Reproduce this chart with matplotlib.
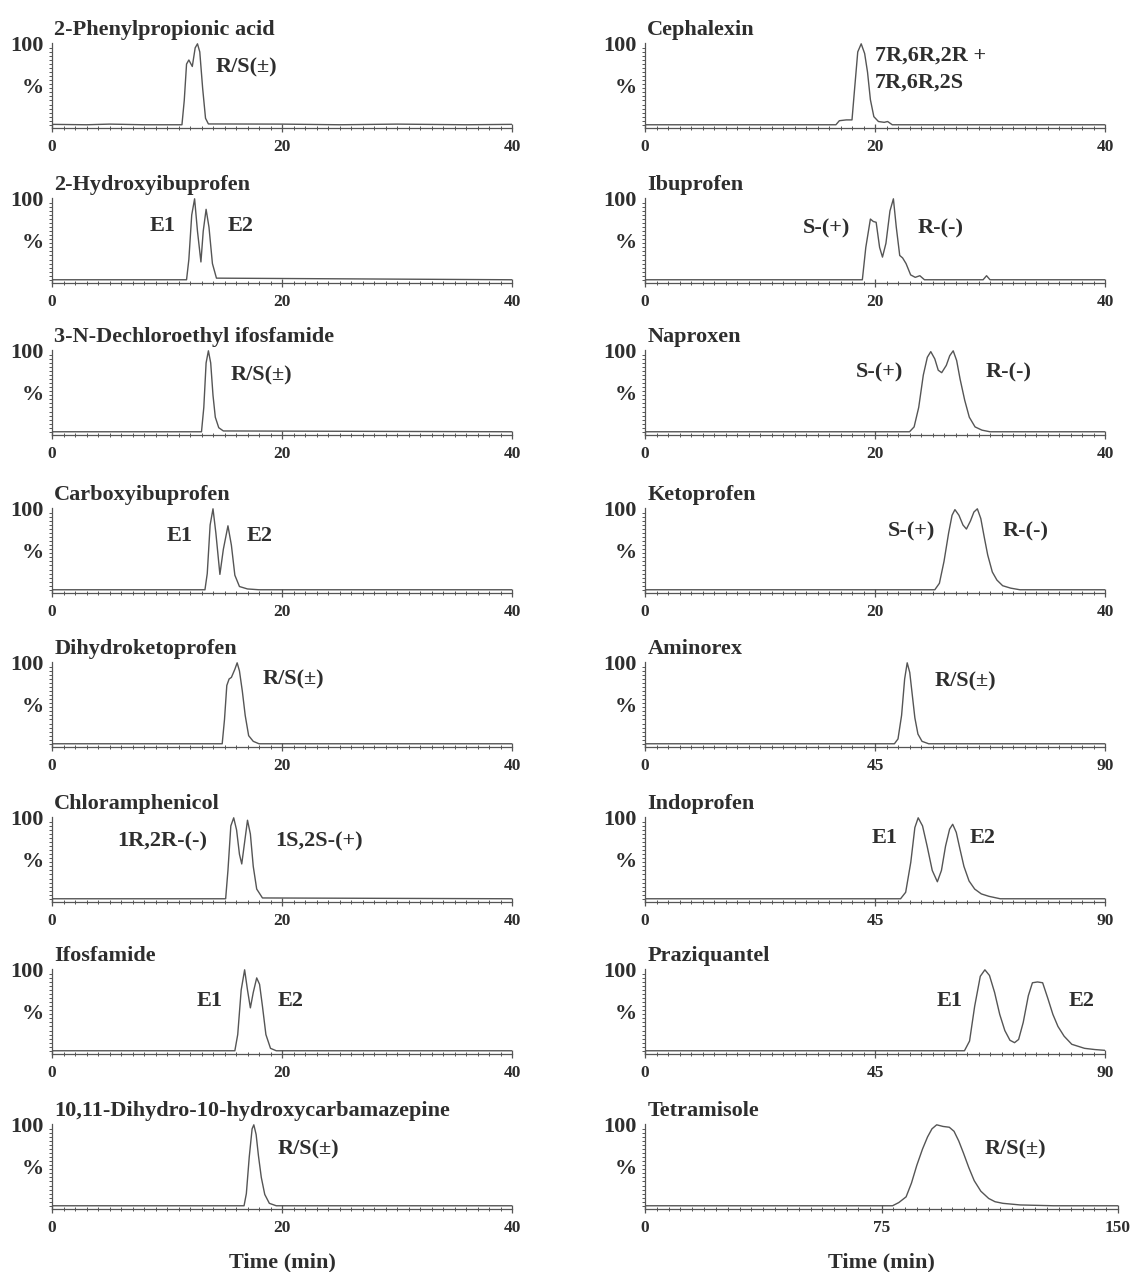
import matplotlib
matplotlib.use('Agg')
import matplotlib.pyplot as plt
from matplotlib.ticker import MultipleLocator

# === chromatogram traces: time (min), signal (%) ===

# left column
phenyl_t = [0, 3, 5, 8, 11.3, 11.5, 11.7, 11.9, 12.2, 12.45, 12.65, 12.85, 13.1, 13.35, 13.6, 20, 25, 30, 36, 40]
phenyl_y = [0.5, 0, 0.8, 0, 0, 30, 75, 80, 72, 95, 100, 90, 45, 8, 1, 0.8, 0, 0.8, 0, 0.5]
hydroxy_t = [0, 11.7, 11.9, 12.15, 12.4, 12.65, 12.95, 13.15, 13.4, 13.65, 13.95, 14.3, 40]
hydroxy_y = [0, 0, 25, 80, 100, 60, 22, 60, 87, 65, 20, 2, 0]
dechloro_t = [0, 13.0, 13.2, 13.4, 13.6, 13.8, 14.0, 14.2, 14.5, 14.9, 40]
dechloro_y = [0, 0, 30, 85, 100, 85, 45, 18, 5, 1, 0]
carboxy_t = [0, 13.3, 13.5, 13.75, 14.0, 14.25, 14.6, 14.9, 15.3, 15.6, 15.9, 16.3, 17.0, 18.0, 40]
carboxy_y = [0, 0, 20, 80, 100, 70, 19, 50, 79, 55, 18, 4, 1, 0, 0]
dihydroketo_t = [0, 14.8, 15.0, 15.2, 15.4, 15.6, 15.9, 16.1, 16.3, 16.55, 16.8, 17.1, 17.5, 18.0, 40]
dihydroketo_y = [0, 0, 30, 72, 80, 82, 92, 100, 90, 65, 35, 10, 3, 0, 0]
chloram_t = [0, 15.1, 15.3, 15.55, 15.8, 16.05, 16.3, 16.5, 16.75, 17.0, 17.25, 17.5, 17.8, 18.3, 40]
chloram_y = [0, 0, 35, 90, 100, 85, 55, 43, 70, 97, 80, 40, 12, 1, 0]
ifos_t = [0, 15.9, 16.15, 16.45, 16.75, 17.0, 17.25, 17.5, 17.8, 18.05, 18.3, 18.6, 19.0, 19.5, 40]
ifos_y = [0, 0, 20, 75, 100, 75, 53, 72, 90, 82, 55, 20, 3, 0, 0]
carbamaz_t = [0, 16.7, 16.9, 17.15, 17.4, 17.55, 17.75, 17.95, 18.2, 18.5, 18.9, 19.5, 40]
carbamaz_y = [0, 0, 15, 60, 95, 100, 88, 62, 35, 14, 3, 0, 0]

# right column
cephal_t = [0, 16.6, 16.9, 17.5, 18.0, 18.2, 18.5, 18.8, 19.1, 19.35, 19.6, 19.9, 20.3, 20.8, 21.1, 21.5, 40]
cephal_y = [0, 0, 5, 6, 6, 40, 90, 100, 88, 65, 31, 10, 4, 3, 4, 0, 0]
ibu_t = [0, 18.9, 19.2, 19.6, 19.85, 20.1, 20.4, 20.65, 20.95, 21.3, 21.6, 21.85, 22.15, 22.4, 22.7, 23.1,
         23.5, 23.9, 24.3, 29.4, 29.7, 30.0, 40]
ibu_y = [0, 0, 40, 75, 72, 71, 40, 28, 45, 85, 100, 65, 30, 27, 20, 6, 3, 5, 0, 0, 5, 0, 0]
napro_t = [0, 23.0, 23.4, 23.8, 24.2, 24.55, 24.85, 25.2, 25.5, 25.8, 26.2, 26.5, 26.8, 27.1, 27.4, 27.8,
           28.2, 28.7, 29.3, 30.0, 40]
napro_y = [0, 0, 6, 30, 70, 92, 99, 90, 76, 73, 82, 94, 100, 88, 65, 39, 18, 6, 2, 0, 0]
keto_t = [0, 25.2, 25.6, 26.0, 26.4, 26.7, 26.95, 27.3, 27.65, 27.95, 28.3, 28.6, 28.9, 29.2, 29.5, 29.8,
          30.2, 30.6, 31.1, 31.8, 32.6, 40]
keto_y = [0, 0, 8, 35, 70, 92, 99, 92, 80, 75, 85, 96, 100, 88, 65, 43, 22, 12, 5, 2, 0, 0]
amino_t = [0, 48.8, 49.5, 50.2, 50.8, 51.3, 51.8, 52.3, 52.8, 53.4, 54.2, 55.5, 90]
amino_y = [0, 0, 6, 35, 80, 100, 88, 60, 32, 12, 3, 0, 0]
indo_t = [0, 50.0, 51.0, 52.0, 52.8, 53.45, 54.3, 55.2, 56.2, 57.2, 58.0, 58.8, 59.6, 60.2, 60.9, 61.6,
          62.4, 63.4, 64.5, 65.8, 67.3, 69.5, 90]
indo_y = [0, 0, 8, 45, 88, 100, 90, 65, 35, 21, 35, 65, 86, 92, 82, 62, 40, 22, 12, 6, 3, 0, 0]
prazi_t = [0, 62.5, 63.5, 64.5, 65.6, 66.5, 67.4, 68.4, 69.4, 70.4, 71.4, 72.3, 73.1, 74.0, 75.0, 75.8,
           76.8, 77.8, 78.8, 79.8, 80.8, 82.0, 83.5, 86.0, 88.0, 90]
prazi_y = [0, 0, 12, 55, 92, 100, 93, 72, 45, 25, 13, 10, 14, 35, 68, 84, 85, 84, 65, 45, 30, 18, 8, 3, 1.5, 0.5]
tetra_t = [0, 78.5, 80.5, 82.8, 84.5, 86.2, 88.0, 89.6, 91.0, 92.5, 94.5, 96.5, 98.0, 99.5, 101.0, 102.7,
           104.4, 106.5, 109.0, 111.0, 113.5, 119.0, 129.5, 150]
tetra_y = [0, 0, 4, 11, 28, 50, 70, 85, 95, 100, 98, 97, 92, 80, 65, 47, 31, 18, 9, 5, 3, 1, 0, 0]

# compound names
left_titles = ['2-Phenylpropionic acid', '2-Hydroxyibuprofen', '3-N-Dechloroethyl ifosfamide',
               'Carboxyibuprofen', 'Dihydroketoprofen', 'Chloramphenicol', 'Ifosfamide',
               '10,11-Dihydro-10-hydroxycarbamazepine']
right_titles = ['Cephalexin', 'Ibuprofen', 'Naproxen', 'Ketoprofen', 'Aminorex', 'Indoprofen',
                'Praziquantel', 'Tetramisole']

# run length of each time axis (min)
left_xmax = [40, 40, 40, 40, 40, 40, 40, 40]
right_xmax = [40, 40, 40, 40, 90, 90, 90, 150]

left_traces = [(phenyl_t, phenyl_y), (hydroxy_t, hydroxy_y), (dechloro_t, dechloro_y),
               (carboxy_t, carboxy_y), (dihydroketo_t, dihydroketo_y), (chloram_t, chloram_y),
               (ifos_t, ifos_y), (carbamaz_t, carbamaz_y)]
right_traces = [(cephal_t, cephal_y), (ibu_t, ibu_y), (napro_t, napro_y), (keto_t, keto_y),
                (amino_t, amino_y), (indo_t, indo_y), (prazi_t, prazi_y), (tetra_t, tetra_y)]

# peak labels: (text, time, height) placed in data coordinates
left_notes = [[('R/S(±)', 14.2, 71)],
              [('E1', 8.5, 66), ('E2', 15.3, 66)],
              [('R/S(±)', 15.5, 70)],
              [('E1', 10.0, 67), ('E2', 16.9, 67)],
              [('R/S(±)', 18.3, 80)],
              [('1R,2R-(-)', 5.7, 71), ('1S,2S-(+)', 19.4, 71)],
              [('E1', 12.6, 62), ('E2', 19.6, 62)],
              [('R/S(±)', 19.6, 69)]]
right_notes = [[('7R,6R,2R +', 20.0, 85), ('7R,6R,2S', 20.0, 52)],
               [('S-(+)', 13.7, 63), ('R-(-)', 23.7, 63)],
               [('S-(+)', 18.3, 73), ('R-(-)', 29.6, 73)],
               [('S-(+)', 21.1, 72), ('R-(-)', 31.1, 72)],
               [('R/S(±)', 56.7, 77)],
               [('E1', 44.4, 75), ('E2', 63.6, 75)],
               [('E1', 57.1, 62), ('E2', 82.8, 62)],
               [('R/S(±)', 107.8, 69)]]

# === layout in pixels of the 1131 x 1272 picture ===
W, H = 1131, 1272
row_base = [128, 283, 435, 593, 747, 902, 1054, 1209]
ax_h = 85
col_x = [(52, 512), (645, 1105)]

plt.rcParams['font.family'] = ['Liberation Serif', 'DejaVu Serif']
plt.rcParams['font.weight'] = 'bold'
text_c = '#2e2e2e'
line_c = '#555555'

fig = plt.figure(figsize=(W / 100, H / 100), dpi=100)

for col, (titles, xmaxes, traces, notes) in enumerate([(left_titles, left_xmax, left_traces, left_notes),
                                                        (right_titles, right_xmax, right_traces, right_notes)]):
    for row in range(8):
        x0, x1 = col_x[col]
        # the last time axis in the right column runs a bit longer
        if xmaxes[row] == 150:
            x1 = 1118
        yb = row_base[row]
        ax = fig.add_axes([x0 / W, 1 - yb / H, (x1 - x0) / W, ax_h / H])
        t, y = traces[row]
        ax.plot(t, y, color=line_c, lw=1.0)
        xmax = xmaxes[row]
        ax.set_xlim(0, xmax)
        ax.set_ylim(-4, 101)
        # spines
        for s in ['top', 'right']:
            ax.spines[s].set_visible(False)
        for s in ['left', 'bottom']:
            ax.spines[s].set_color(line_c)
            ax.spines[s].set_linewidth(0.9)
        # ticks
        ax.set_xticks([0, xmax / 2, xmax], [str(0), str(int(xmax / 2)), str(xmax)])
        ax.xaxis.set_minor_locator(MultipleLocator(xmax / 40))
        ax.tick_params(axis='x', which='major', direction='inout', length=6, width=0.9,
                       color=line_c, labelsize=12.5, labelcolor=text_c, pad=5)
        ax.tick_params(axis='x', which='minor', direction='inout', length=3, width=0.7, color=line_c)
        ax.set_yticks([48, 100], ['%', '100'])
        ax.yaxis.set_minor_locator(MultipleLocator(5))
        ax.tick_params(axis='y', which='major', length=0, labelsize=16, labelcolor=text_c, pad=6)
        ax.tick_params(axis='y', which='minor', direction='out', length=2, width=0.7, color=line_c)
        # compound name above the trace
        ax.text(0.005, 1.04, titles[row], transform=ax.transAxes, fontsize=16, color=text_c,
                ha='left', va='bottom')
        # peak labels
        for txt, tx, ty in notes[row]:
            ax.text(tx, ty, txt, fontsize=16, color=text_c, ha='left', va='center')
        if row == 7:
            ax.set_xlabel('Time (min)', fontsize=16, fontweight='bold', color=text_c, labelpad=12)

fig.savefig('out.png', dpi=100, facecolor='white')
